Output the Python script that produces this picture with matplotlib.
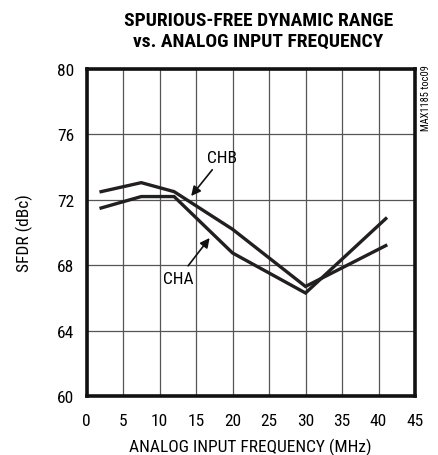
import matplotlib
matplotlib.use("Agg")
import matplotlib.pyplot as plt

# --- data ---
freq_b = [2, 7.5, 12, 20, 30, 41]
sfdr_b = [72.5, 73.05, 72.5, 70.2, 66.7, 69.2]   # CHB
freq_a = [2, 7.5, 12, 20, 30, 41]
sfdr_a = [71.5, 72.2, 72.2, 68.75, 66.3, 70.85]  # CHA

xticks = [0, 5, 10, 15, 20, 25, 30, 35, 40, 45]
yticks = [60, 64, 68, 72, 76, 80]

plt.rcParams['font.family'] = ['Roboto Condensed', 'Archivo Narrow', 'DejaVu Sans']

fig = plt.figure(figsize=(4.38, 4.56), dpi=100)
ax = fig.add_axes([0.1975, 0.1294, 0.75, 0.717])

ax.plot(freq_b, sfdr_b, color='#231f20', linewidth=2.4, solid_joinstyle='miter')
ax.plot(freq_a, sfdr_a, color='#231f20', linewidth=2.4, solid_joinstyle='miter')

ax.set_xlim(0, 45)
ax.set_ylim(60, 80)
ax.set_xticks(xticks)
ax.set_yticks(yticks)
ax.tick_params(axis='x', length=0, labelsize=12.5, pad=12)
ax.tick_params(axis='y', length=0, labelsize=12.5, pad=9)
ax.grid(True, color='#555555', linewidth=0.9)
for s in ax.spines.values():
    s.set_linewidth(2.6)
    s.set_color('#111111')

ax.set_xlabel('ANALOG INPUT FREQUENCY (MHz)', fontsize=12.5, labelpad=7)
ax.set_ylabel('SFDR (dBc)', fontsize=12.5, labelpad=17)

# arrows with labels
arrow = dict(arrowstyle='-|>', color='#111111', lw=1.2, mutation_scale=14)
ax.annotate('CHB', xy=(14.1, 72.1), xytext=(18.6, 74.6), fontsize=12.5,
            ha='center', va='center', arrowprops=arrow)
ax.annotate('CHA', xy=(17.1, 69.8), xytext=(12.6, 67.2), fontsize=12.5,
            ha='center', va='center', arrowprops=arrow)

fig.text(0.59, 0.953, 'SPURIOUS-FREE DYNAMIC RANGE', ha='center', va='center',
         fontsize=14, fontweight='heavy')
fig.text(0.59, 0.908, 'vs. ANALOG INPUT FREQUENCY', ha='center', va='center',
         fontsize=14, fontweight='heavy')
fig.text(0.972, 0.857, 'MAX1185 toc09', rotation=90, ha='center', va='top',
         fontsize=7.5)

fig.savefig('out.png', dpi=100)
